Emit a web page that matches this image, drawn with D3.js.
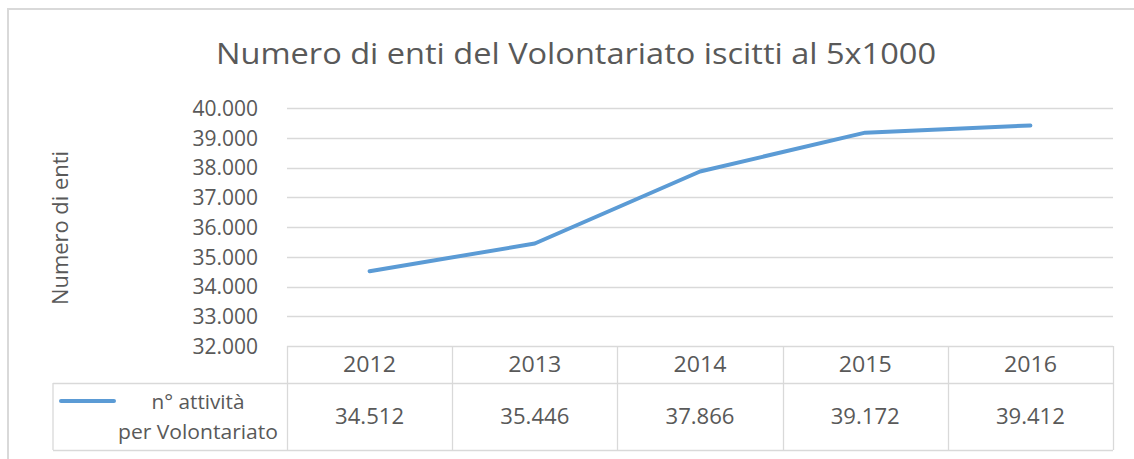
<!DOCTYPE html>
<html><head><meta charset="utf-8">
<script src="https://cdn.jsdelivr.net/npm/d3@7"></script>
<style>body{margin:0;background:#fff;}svg{display:block;font-family:"Open Sans",sans-serif;}</style>
</head><body>
<script>
const years = ["2012","2013","2014","2015","2016"];
const values = [34512, 35446, 37866, 39172, 39412];
const yTicks = [32000,33000,34000,35000,36000,37000,38000,39000,40000];
const seriesName = ["n° attività", "per Volontariato"];
const title = "Numero di enti del Volontariato iscitti al 5x1000";
const yTitle = "Numero di enti";

(function(){
const W = 1134, H = 459;
const grey = "#d9d9d9", txt = "#595959", blue = "#5b9bd5";
const svg = d3.select("body").append("svg").attr("width", W).attr("height", H);

// outer frame
svg.append("path").attr("d", `M8,${H} V9 H${W}`).attr("fill","none").attr("stroke",grey).attr("stroke-width",2);

const pL = 287, pR = 1113, pT = 108, pB = 346;
const x = d3.scaleBand().domain(years).range([pL, pR]).paddingInner(0).paddingOuter(0);
const y = d3.scaleLinear().domain([32000, 40000]).range([pB, pT]);
const fmt = v => d3.format(",")(v).replace(/,/g, ".");

// gridlines
svg.append("g").selectAll("line").data(yTicks).join("line")
  .attr("x1", pL).attr("x2", pR)
  .attr("y1", d => Math.round(y(d)) + 0.5).attr("y2", d => Math.round(y(d)) + 0.5)
  .attr("stroke", grey).attr("stroke-width", 1.3);

// y axis labels
const yAxis = d3.axisLeft(y).tickValues(yTicks).tickFormat(fmt).tickSize(0).tickPadding(0);
const gy = svg.append("g").attr("transform", `translate(258,0)`).call(yAxis);
gy.select(".domain").remove();
gy.selectAll("text").attr("fill", txt).style("font-size", "21px").style("font-family", '"Open Sans",sans-serif').attr("dy","0.35em");

// title
svg.append("text").attr("x", 576).attr("y", 64).attr("text-anchor","middle")
  .attr("fill", txt).style("font-size","30px")
  .attr("textLength", 720).attr("lengthAdjust", "spacingAndGlyphs").text(title);

// y title
svg.append("text").attr("transform", "translate(68,228) rotate(-90)").attr("text-anchor","middle")
  .attr("fill", txt).style("font-size","21px").attr("textLength", 154).attr("lengthAdjust","spacingAndGlyphs").text(yTitle);

// data table
const rowTop = pB, rowMid = 383, rowBot = 450, legL = 53;
const tg = svg.append("g").attr("stroke", grey).attr("stroke-width", 1.3).attr("fill","none");
const cols = years.map(d => x(d)).concat([pR]);
tg.selectAll(".v").data(cols).join("line")
  .attr("x1", d => Math.round(d)+0.5).attr("x2", d => Math.round(d)+0.5)
  .attr("y1", rowTop).attr("y2", rowBot);
tg.append("line").attr("x1", legL).attr("x2", legL).attr("y1", rowMid).attr("y2", rowBot);
tg.append("line").attr("x1", legL).attr("x2", pR).attr("y1", rowMid+0.5).attr("y2", rowMid+0.5);
tg.append("line").attr("x1", legL).attr("x2", pR).attr("y1", rowBot+0.5).attr("y2", rowBot+0.5);

svg.append("g").selectAll("text").data(years).join("text")
  .attr("x", d => x(d) + x.bandwidth()/2).attr("y", (rowTop+rowMid)/2).attr("dy","0.35em")
  .attr("text-anchor","middle").attr("fill", txt).style("font-size","21px")
  .attr("textLength", 53).attr("lengthAdjust","spacingAndGlyphs").text(d => d);
svg.append("g").selectAll("text").data(values).join("text")
  .attr("x", (d,i) => x(years[i]) + x.bandwidth()/2).attr("y", (rowMid+rowBot)/2).attr("dy","0.35em")
  .attr("text-anchor","middle").attr("fill", txt).style("font-size","21px")
  .attr("textLength", 69).attr("lengthAdjust","spacingAndGlyphs").text(d => fmt(d));

// legend
svg.append("line").attr("x1", 61).attr("x2", 114).attr("y1", 401).attr("y2", 401)
  .attr("stroke", blue).attr("stroke-width", 4).attr("stroke-linecap","round");
svg.append("g").selectAll("text").data(seriesName).join("text")
  .attr("x", 198).attr("y", (d,i) => 402 + i*30).attr("dy","0.35em")
  .attr("text-anchor","middle").attr("fill", txt).style("font-size","20px")
  .attr("textLength", (d,i) => i ? 160 : 93).attr("lengthAdjust","spacingAndGlyphs").text(d => d);

// line
const line = d3.line().x((d,i) => x(years[i]) + x.bandwidth()/2).y(d => y(d));
svg.append("path").datum(values).attr("d", line).attr("fill","none")
  .attr("stroke", blue).attr("stroke-width", 4).attr("stroke-linecap","round").attr("stroke-linejoin","round");
})();
</script>
</body></html>
